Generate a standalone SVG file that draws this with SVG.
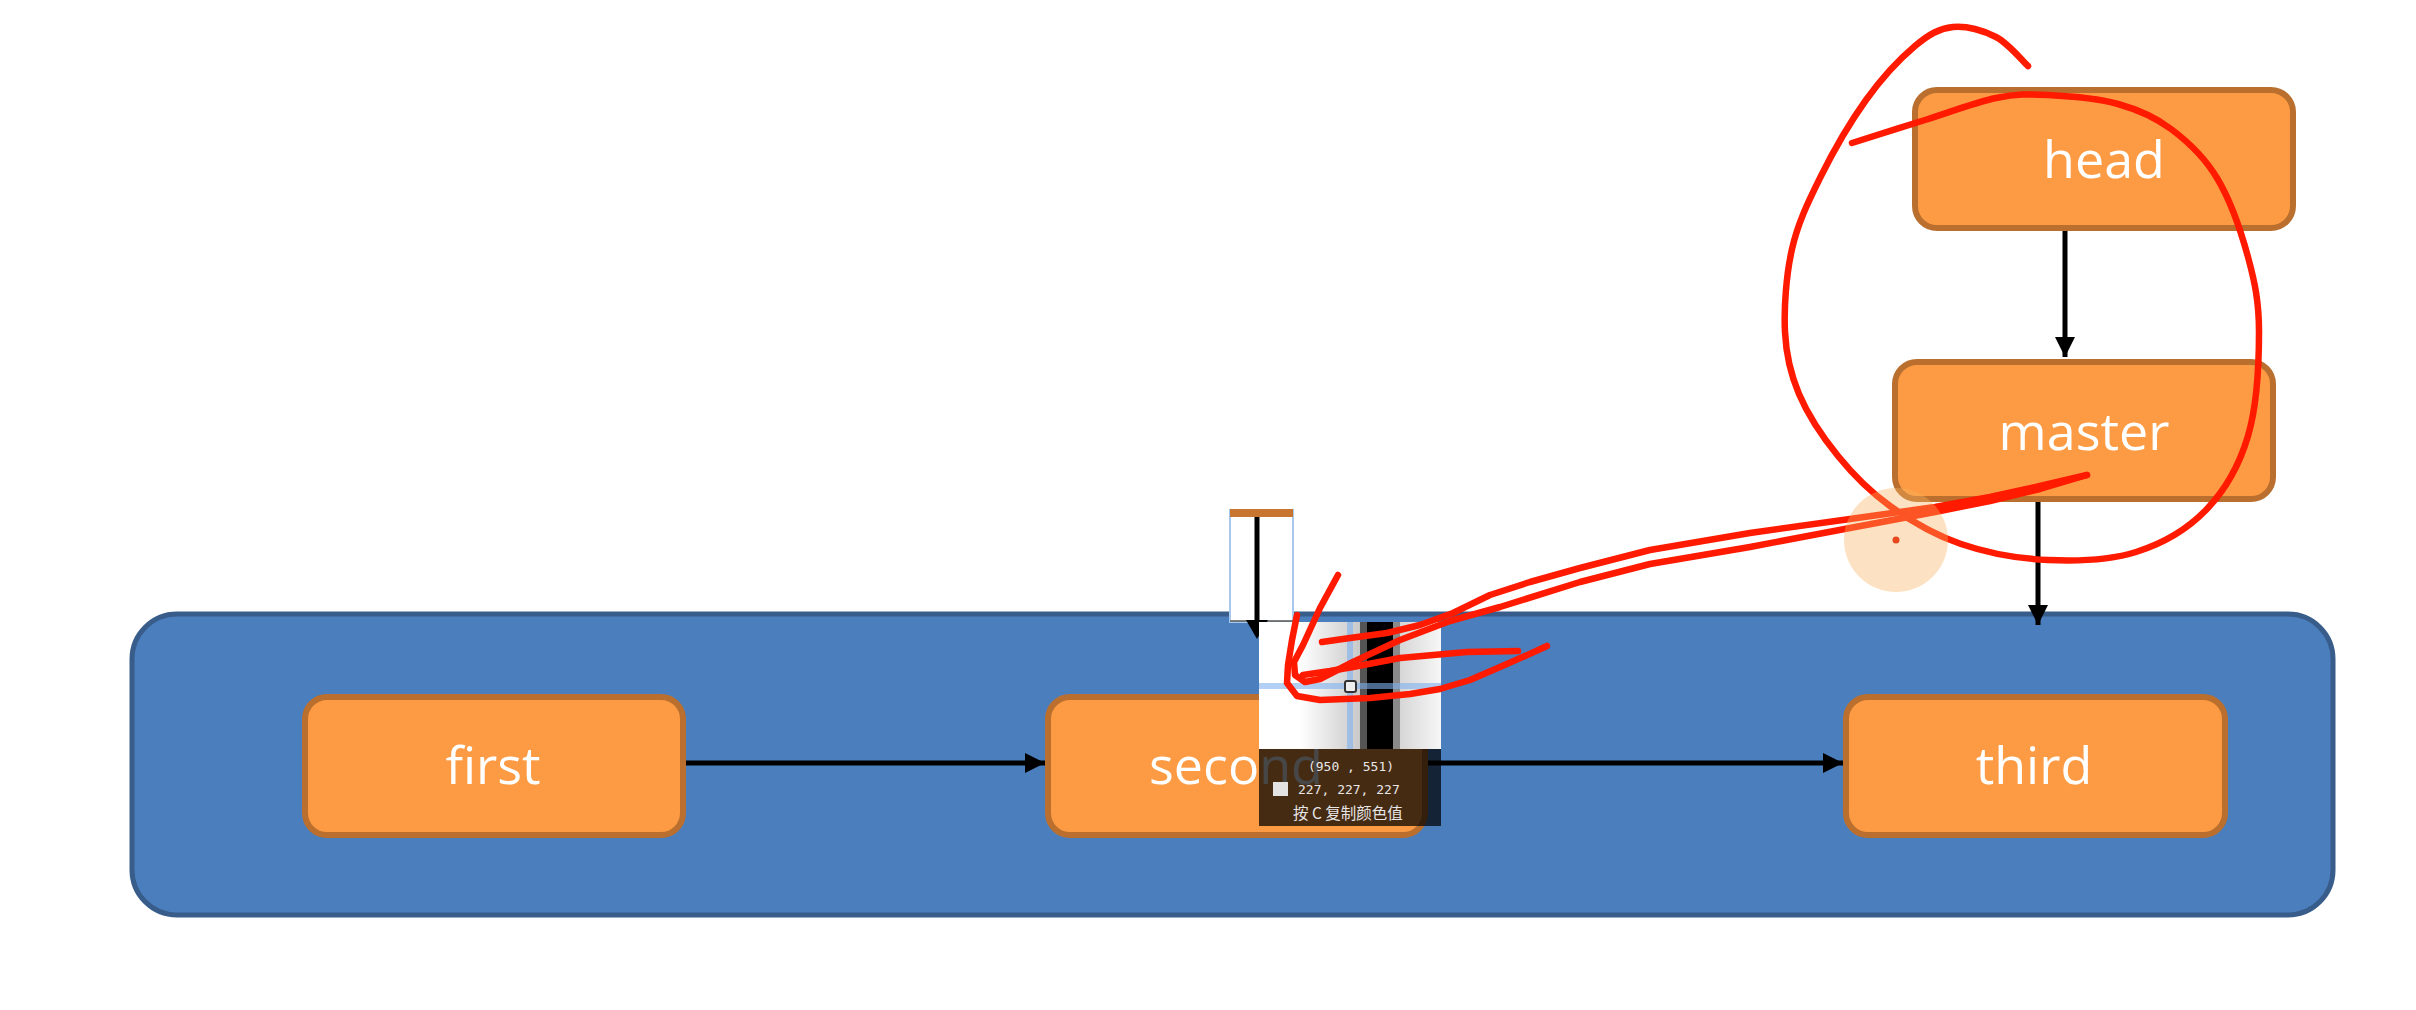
<svg xmlns="http://www.w3.org/2000/svg" width="2416" height="1010" viewBox="0 0 2416 1010">
<style>
.node rect{fill:#FC9B44;stroke:#BA6F2E;stroke-width:6}
.label{font-family:"Open Sans","Noto Sans",sans-serif;font-size:52px;fill:#fff;text-anchor:middle}
.edge{stroke:#000;stroke-width:5;fill:none;marker-end:url(#arr)}
.pen{fill:none;stroke:#FF1A00;stroke-width:6.5;stroke-linecap:round;stroke-linejoin:round}
.info{font-family:"DejaVu Sans Mono",monospace;font-size:13px;fill:#E6E6E6}
</style>
<defs>
<marker id="arr" markerUnits="userSpaceOnUse" markerWidth="20" markerHeight="20" refX="20" refY="10" orient="auto">
<path d="M0,0 L20,10 L0,20 z" fill="#000"/>
</marker>
<linearGradient id="g1" x1="0" x2="1" y1="0" y2="0">
<stop offset="0" stop-color="#FFFFFF"/>
<stop offset="1" stop-color="#C9C9C9"/>
</linearGradient>
<linearGradient id="g2" x1="0" x2="1" y1="0" y2="0">
<stop offset="0" stop-color="#D6D6D6"/>
<stop offset="1" stop-color="#F7F7F7"/>
</linearGradient>
</defs>
<rect width="2416" height="1010" fill="#fff"/>
<g id="repo">
<rect x="132" y="614" width="2201" height="301" rx="45" fill="#4A7EBD" stroke="#385D8A" stroke-width="5"/>
</g>
<g id="connectors">
<line class="edge" x1="683" y1="763" x2="1045" y2="763"/>
<line class="edge" x1="1425" y1="763" x2="1843" y2="763"/>
<line class="edge" x1="2065" y1="230" x2="2065" y2="357"/>
<line class="edge" x1="2038" y1="501" x2="2038" y2="625"/>
</g>
<g id="first" class="node"><rect x="305" y="697" width="378" height="138" rx="22"/><text class="label" x="493" y="784">first</text></g>
<g id="second" class="node"><rect x="1048" y="697" width="377" height="138" rx="22"/><text class="label" x="1236" y="784">second</text></g>
<g id="third" class="node"><rect x="1846" y="697" width="379" height="138" rx="22"/><text class="label" x="2034" y="784">third</text></g>
<g id="head" class="node"><rect x="1915" y="90" width="378" height="138" rx="22"/><text class="label" x="2104" y="178">head</text></g>
<g id="master" class="node"><rect x="1895" y="362" width="378" height="137" rx="22"/><text class="label" x="2084" y="450">master</text></g>
<g id="snippet">
<rect x="1230" y="510" width="63" height="112" fill="#fff" stroke="#A9C8EE" stroke-width="2"/>
<rect x="1230" y="509" width="63" height="8" fill="#C8762F"/>
<line x1="1230" y1="621" x2="1293" y2="621" stroke="#555" stroke-width="1.5"/>
<line x1="1257" y1="517" x2="1257" y2="624" stroke="#000" stroke-width="5"/>
<path d="M1246,620 L1268,620 L1257,639 z" fill="#000"/>
</g>
<g id="magnifier">
<rect x="1259" y="622" width="182" height="127" fill="#fff"/>
<rect x="1300" y="622" width="60" height="127" fill="url(#g1)"/>
<rect x="1360" y="622" width="7" height="127" fill="#555"/>
<rect x="1367" y="622" width="26" height="127" fill="#000"/>
<rect x="1393" y="622" width="7" height="127" fill="#8A8A8A"/>
<rect x="1400" y="622" width="41" height="127" fill="url(#g2)"/>
<rect x="1347" y="622" width="6" height="127" fill="#7FB0F0" opacity="0.6"/>
<rect x="1259" y="683" width="182" height="6" fill="#7FB0F0" opacity="0.6"/>
<rect x="1345" y="681" width="11" height="11" rx="2" fill="#EEE" stroke="#333" stroke-width="2"/>
</g>
<g id="infopanel">
<rect x="1259" y="749" width="182" height="77" fill="#000" opacity="0.72"/>
<text class="info" x="1351" y="771" text-anchor="middle">(950 , 551)</text>
<rect x="1273" y="782" width="15" height="14" fill="#E3E3E3"/>
<text class="info" x="1298" y="794">227, 227, 227</text>
<text x="1293" y="819" font-family="'Noto Sans CJK SC',sans-serif" font-size="15.5" fill="#E6E6E6">按 C 复制颜色值</text>
</g>
<g id="annotations">
<path class="pen" d="M2028,66 C2022.7,61.2 2008.5,43.5 1996,37 C1983.5,30.5 1966.5,25.5 1953,27 C1939.5,28.5 1929.5,33.8 1915,46 C1900.5,58.2 1881.8,78 1866,100 C1850.2,122 1832.3,153.2 1820,178 C1807.7,202.8 1797.8,223.3 1792,249 C1786.2,274.7 1783.8,307.8 1785,332 C1786.2,356.2 1790.2,373.3 1799,394 C1807.8,414.7 1822.8,437.3 1838,456 C1853.2,474.7 1869.5,491.3 1890,506 C1910.5,520.7 1934.7,535 1961,544 C1987.3,553 2018.8,558.7 2048,560 C2077.2,561.3 2109.7,560.3 2136,552 C2162.3,543.7 2187.3,529.3 2206,510 C2224.7,490.7 2239.2,465.7 2248,436 C2256.8,406.3 2259,361.8 2259,332 C2259,302.2 2255,282.7 2248,257 C2241,231.3 2229.8,199.3 2217,178 C2204.2,156.7 2187.5,141.3 2171,129 C2154.5,116.7 2138.5,109.7 2118,104 C2097.5,98.3 2068.3,96 2048,95 C2027.7,94 2016.5,93.8 1996,98 C1975.5,102.2 1949,112.5 1925,120 C1901,127.5 1864.2,139.2 1852,143"/>
<path class="pen" d="M2087,475 L2040,486 L1990,497 L1935,507 L1850,519 L1750,533 L1650,550 L1580,568 L1530,582 L1490,595 L1453,613 L1420,625 L1387,633 L1350,638 L1322,642"/>
<path class="pen" d="M2087,475 L2040,489 L1990,501 L1935,512 L1850,528 L1750,547 L1650,564 L1580,582 L1500,607 L1450,621 L1400,640 L1353,662 L1320,679 L1305,682 L1295,675 L1294,662 L1303,645 L1320,608 L1338,575"/>
<path class="pen" d="M1303,675 L1330,671 L1353,667 L1400,658 L1467,652 L1518,651"/>
<path class="pen" d="M1297,615 L1292,640 L1288,665 L1287,683 L1297,696 L1320,700 L1370,698 L1410,694 L1440,689 L1470,680 L1500,667 L1525,656 L1547,646"/>
</g>
<g id="cursor">
<circle cx="1896" cy="540" r="52" fill="#F6B35E" opacity="0.38"/>
<circle cx="1896" cy="540" r="3.5" fill="#E8471E"/>
</g>
</svg>
